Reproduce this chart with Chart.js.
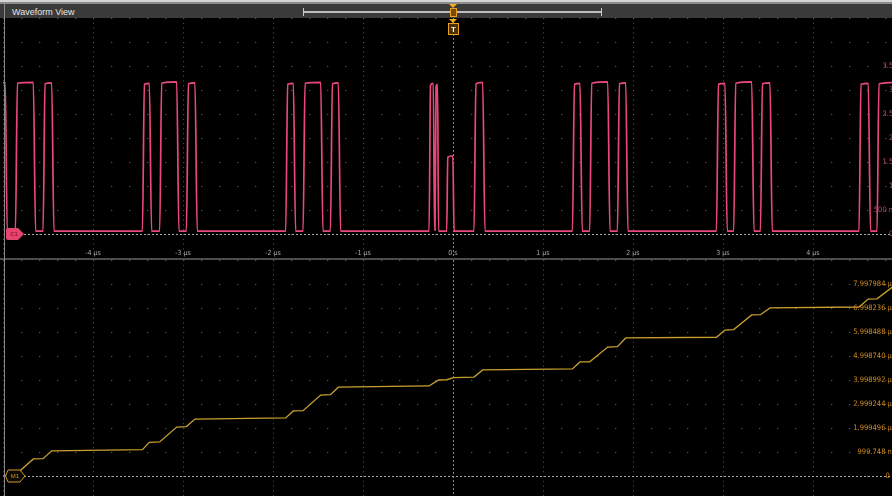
<!DOCTYPE html>
<html>
<head>
<meta charset="utf-8">
<title>Waveform View</title>
<script src="https://cdn.jsdelivr.net/npm/chart.js@4.4.1/dist/chart.umd.min.js"></script>
<style>
html, body { margin:0; padding:0; overflow:hidden; background:#000; }
#page { position:relative; width:892px; height:496px; overflow:hidden; background:#000; font-family:"Liberation Sans", Arial, sans-serif; }
#top_edge { position:absolute; left:0; top:0; width:892px; height:2px; background:#d4d4d4; }
#top_edge2 { position:absolute; left:0; top:2px; width:892px; height:2px; background:#8c8c8c; }
#title_bar { position:absolute; left:0; top:4px; width:892px; height:14px; background:#3a3a3a; }
#title_txt { position:absolute; left:12px; top:1px; line-height:14px; font-size:9px; color:#e4e4e4; }
#bracket { position:absolute; left:303px; top:8px; width:297px; height:8px; border-left:1px solid #c8c8c8; border-right:1px solid #c8c8c8; }
#bracket_line { position:absolute; left:0; top:3px; width:100%; height:2px; background:#bdbdbd; }
#trig_tri { position:absolute; left:449px; top:4px; width:0; height:0; border-left:4px solid transparent; border-right:4px solid transparent; border-top:4px solid #f2aa1c; }
#trig_box { position:absolute; left:450px; top:8px; width:5px; height:7px; background:#7a4a0a; border:1px solid #e6a21e; }
#c1_canvas { position:absolute; left:0; top:18px; }
#divider { position:absolute; left:0; top:258px; width:892px; height:2px; background:#4c4c4c; }
#m1_canvas { position:absolute; left:0; top:260px; }
#left_edge { position:absolute; left:4px; top:4px; width:1px; height:492px; background:#8a8a8a; }
</style>
</head>
<body>
<div id="page">
  <div id="top_edge"></div>
  <div id="top_edge2"></div>
  <div id="title_bar"><div id="title_txt">Waveform View</div></div>
  <div id="bracket"><div id="bracket_line"></div></div>
  <div id="trig_tri"></div>
  <div id="trig_box"></div>
  <canvas id="c1_canvas" width="915" height="240"></canvas>
  <div id="divider"></div>
  <canvas id="m1_canvas" width="915" height="240"></canvas>
  <div id="left_edge"></div>
</div>
<script>
// time axis (µs)
const grid_times = [-5,-4,-3,-2,-1,0,1,2,3,4,5];
const time_tick_values = [-4,-3,-2,-1,0,1,2,3,4];
const time_tick_labels = ["-4 µs","-3 µs","-2 µs","-1 µs","0 s","1 µs","2 µs","3 µs","4 µs"];

// C1 vertical scale (V)
const c1_rows = [-0.5,0,0.5,1,1.5,2,2.5,3,3.5,4,4.5];
const c1_tick_values = [0,0.5,1,1.5,2,2.5,3,3.5];
const c1_tick_labels = ["0 V","500 mV","1 V","1.5 V","2 V","2.5 V","3 V","3.5 V"];

// M1 vertical scale (µVs)
const m1_rows = [-0.999748,0,0.999748,1.999496,2.999244,3.998992,4.99874,5.998488,6.998236,7.997984,8.997732];
const m1_tick_values = [0,0.999748,1.999496,2.999244,3.998992,4.99874,5.998488,6.998236,7.997984];
const m1_tick_labels = ["0 Vs","999.748 nVs","1.999496 µVs","2.999244 µVs","3.998992 µVs","4.998740 µVs","5.998488 µVs","6.998236 µVs","7.997984 µVs"];

// C1 waveform, time (µs) / volts
const c1_time = [-5.000,-4.975,-4.953,
 -4.862,-4.840,-4.663,-4.638,
 -4.555,-4.533,-4.459,-4.434,
 -3.451,-3.429,-3.374,-3.349,
 -3.259,-3.237,-3.070,-3.045,
 -2.962,-2.940,-2.867,-2.842,
 -1.859,-1.837,-1.774,-1.749,
 -1.666,-1.644,-1.470,-1.445,
 -1.362,-1.340,-1.274,-1.249,
 -0.266,-0.250,-0.219,-0.205,
 -0.200,-0.188,-0.172,-0.160,
 -0.070,-0.058,-0.002,0.012,
 0.233,0.255,0.330,0.355,
 1.327,1.349,1.411,1.436,
 1.519,1.541,1.719,1.744,
 1.827,1.849,1.919,1.944,
 2.927,2.949,3.022,3.047,
 3.119,3.141,3.319,3.344,
 3.416,3.438,3.522,3.547,
 4.511,4.533,4.614,4.639,
 4.711,4.733,5.000];
const c1_volt = [3.15,3.15,0.06,
 0.06,3.14,3.16,0.06,
 0.06,3.13,3.15,0.06,
 0.06,3.12,3.14,0.06,
 0.06,3.14,3.17,0.06,
 0.06,3.13,3.15,0.06,
 0.06,3.12,3.14,0.06,
 0.06,3.14,3.16,0.06,
 0.06,3.13,3.15,0.06,
 0.06,3.10,3.14,0.08,
 0.08,3.08,3.12,0.06,
 0.06,1.60,1.63,0.06,
 0.06,3.13,3.16,0.06,
 0.06,3.12,3.14,0.06,
 0.06,3.14,3.17,0.06,
 0.06,3.13,3.15,0.06,
 0.06,3.12,3.14,0.06,
 0.06,3.14,3.17,0.06,
 0.06,3.13,3.15,0.06,
 0.06,3.12,3.14,0.06,
 0.06,3.13,3.16];

// M1 math trace, time (µs) / µVs
const m1_time = [-5.000,-4.955,-4.862,-4.663,-4.555,-4.459,-3.451,-3.374,-3.259,-3.070,-2.962,-2.867,
 -1.859,-1.774,-1.666,-1.470,-1.362,-1.274,-0.266,-0.205,-0.200,-0.160,-0.070,0.005,
 0.233,0.330,1.327,1.411,1.519,1.719,1.827,1.919,2.927,3.022,3.119,3.319,3.416,3.522,
 4.511,4.614,4.711,4.900];
const m1_value = [0.00,0.05,0.05,0.71,0.72,1.05,1.10,1.40,1.42,2.04,2.06,2.37,
 2.42,2.71,2.72,3.37,3.39,3.70,3.75,3.90,3.90,4.00,4.01,4.10,
 4.12,4.42,4.46,4.75,4.76,5.37,5.39,5.75,5.78,6.08,6.10,6.71,6.72,7.00,
 7.04,7.37,7.38,7.92];

const label_font = '7.5px "DejaVu Sans Condensed", "Liberation Sans", sans-serif';
const label_right = 900;

const scope_plugin = {
    id: 'scope',
    beforeDatasetsDraw(chart, args, opts){
        const ctx = chart.ctx, a = chart.chartArea;
        const xs = chart.scales.x, ys = chart.scales.y;
        const minor_x = xs.getPixelForValue(0.2) - xs.getPixelForValue(0);
        const minor_y = Math.abs(ys.getPixelForValue(opts.rows[1]) - ys.getPixelForValue(opts.rows[2])) / 5;
        ctx.save();
        ctx.lineWidth = 1;
        ctx.strokeStyle = '#585858';
        // vertical division lines
        ctx.setLineDash([1, minor_y - 1]);
        for (const t of grid_times){
            if (t === 0) continue;
            const px = Math.round(xs.getPixelForValue(t)) + 0.5;
            ctx.beginPath(); ctx.moveTo(px, a.top); ctx.lineTo(px, a.bottom); ctx.stroke();
        }
        // horizontal division lines
        ctx.setLineDash([1.3, minor_x - 1.3]);
        for (const v of opts.rows){
            const py = Math.round(ys.getPixelForValue(v)) + 0.5;
            ctx.beginPath(); ctx.moveTo(a.left, py); ctx.lineTo(a.right, py); ctx.stroke();
        }
        // trigger (center) line
        ctx.strokeStyle = '#858585';
        ctx.setLineDash([2, 2]);
        const cx = Math.round(xs.getPixelForValue(0)) + 0.5;
        ctx.beginPath(); ctx.moveTo(cx, a.top); ctx.lineTo(cx, a.bottom); ctx.stroke();
        // ground reference
        ctx.strokeStyle = '#a8a8a8';
        const gy = Math.round(ys.getPixelForValue(0)) + 0.5;
        ctx.beginPath(); ctx.moveTo(24, gy); ctx.lineTo(a.right, gy); ctx.stroke();
        ctx.restore();
    },
    afterDatasetsDraw(chart, args, opts){
        const ctx = chart.ctx, a = chart.chartArea;
        const xs = chart.scales.x, ys = chart.scales.y;
        ctx.save();
        // right side level labels
        ctx.font = label_font;
        ctx.textAlign = 'right';
        ctx.textBaseline = 'middle';
        ctx.fillStyle = opts.label_color;
        for (let i=0; i<opts.tick_values.length; i++){
            ctx.fillText(opts.tick_labels[i], label_right, ys.getPixelForValue(opts.tick_values[i]));
        }
        // time labels
        if (opts.show_time){
            ctx.font = '7px "DejaVu Sans Condensed", "Liberation Sans", sans-serif';
            ctx.textAlign = 'center';
            ctx.fillStyle = '#a8a8a8';
            for (let i=0; i<time_tick_values.length; i++){
                ctx.fillText(time_tick_labels[i], xs.getPixelForValue(time_tick_values[i]), a.bottom - 5);
            }
        }
        const gy = Math.round(ys.getPixelForValue(0));
        if (opts.marker === 'C1'){
            ctx.beginPath();
            ctx.moveTo(8, gy-6); ctx.lineTo(18, gy-6); ctx.lineTo(24, gy); ctx.lineTo(18, gy+6);
            ctx.lineTo(8, gy+6); ctx.quadraticCurveTo(6, gy+6, 6, gy+4); ctx.lineTo(6, gy-4);
            ctx.quadraticCurveTo(6, gy-6, 8, gy-6); ctx.closePath();
            ctx.fillStyle = '#e6446f'; ctx.fill();
            ctx.fillStyle = '#9c1a40';
            ctx.font = 'bold 6px "Liberation Sans", sans-serif';
            ctx.textAlign = 'center';
            ctx.fillText('C1', 14, gy + 0.5);
            // trigger marker
            const tx = Math.round(xs.getPixelForValue(0));
            ctx.beginPath();
            ctx.moveTo(tx-4, a.top+1); ctx.lineTo(tx+4, a.top+1); ctx.lineTo(tx, a.top+5); ctx.closePath();
            ctx.fillStyle = '#f2aa1c'; ctx.fill();
            ctx.fillStyle = '#4a3008'; ctx.fillRect(tx-5, a.top+5.5, 11, 11);
            ctx.strokeStyle = '#e8a21e'; ctx.lineWidth = 1;
            ctx.strokeRect(tx-4.5, a.top+5.5, 10, 11);
            ctx.fillStyle = '#f4f4f4';
            ctx.font = 'bold 8px "Liberation Sans", sans-serif';
            ctx.fillText('T', tx+0.5, a.top+11.5);
        } else {
            ctx.beginPath();
            ctx.moveTo(8, gy-6); ctx.lineTo(20, gy-6); ctx.lineTo(25, gy); ctx.lineTo(20, gy+6);
            ctx.lineTo(8, gy+6); ctx.lineTo(5.5, gy); ctx.closePath();
            ctx.fillStyle = '#0c0a04'; ctx.fill();
            ctx.strokeStyle = '#d49628'; ctx.lineWidth = 1; ctx.stroke();
            ctx.fillStyle = '#d49628';
            ctx.font = '6px "Liberation Sans", sans-serif';
            ctx.textAlign = 'center';
            ctx.fillText('M1', 15, gy + 0.5);
        }
        ctx.restore();
    }
};

class ScopePanel{
    constructor(canvas_id, times, values, y_min, y_max, trace_color, trace_width, smooth, scope_opts){
        this.canvas_id = canvas_id;
        this.times = times;
        this.values = values;
        this.y_min = y_min;
        this.y_max = y_max;
        this.trace_color = trace_color;
        this.trace_width = trace_width;
        this.smooth = smooth;
        this.scope_opts = scope_opts;
    }

    build_chart(){
        const points = this.times.map((t, i) => ({x: t, y: this.values[i]}));
        const ds = {
            data: points,
            borderColor: this.trace_color,
            borderWidth: this.trace_width,
            pointRadius: 0,
            tension: 0,
            fill: false
        };
        if (this.smooth) ds.cubicInterpolationMode = "monotone"; //rounded edge corners
        new Chart(document.getElementById(this.canvas_id), {
            type: "line",
            data: {datasets: [ds]},
            options: {
                responsive: false,
                animation: false,
                devicePixelRatio: 1,
                layout: {padding: {left: 3, right: 12, top: 0, bottom: 0}},
                scales: {
                    x: {type: "linear", min: -5, max: 5, display: false},
                    y: {type: "linear", min: this.y_min, max: this.y_max, display: false}
                },
                plugins: {
                    legend: {display: false},
                    tooltip: {enabled: false},
                    scope: this.scope_opts
                }
            },
            plugins: [scope_plugin]
        });
    }
}

const c1_panel = new ScopePanel("c1_canvas", c1_time, c1_volt, -0.5, 4.5, "#e8497a", 1.7, true, {
    rows: c1_rows, tick_values: c1_tick_values, tick_labels: c1_tick_labels,
    label_color: "#c24a6a", show_time: true, marker: "C1"
});
c1_panel.build_chart();

const m1_panel = new ScopePanel("m1_canvas", m1_time, m1_value, -0.999748, 8.997732, "#c9a030", 1.3, false, {
    rows: m1_rows, tick_values: m1_tick_values, tick_labels: m1_tick_labels,
    label_color: "#d08c22", show_time: false, marker: "M1"
});
m1_panel.build_chart();
</script>
</body>
</html>
